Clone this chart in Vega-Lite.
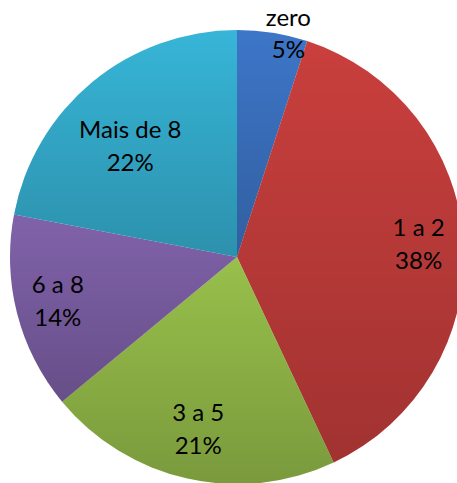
{
  "$schema": "https://vega.github.io/schema/vega-lite/v6.json",
  "width": 440,
  "height": 452,
  "padding": {"left": 17, "top": 31, "right": 0, "bottom": 0},
  "autosize": {"type": "none"},
  "background": "white",
  "config": {"view": {"stroke": null}},
  "data": {
    "values": [
      {"cat": "zero", "value": 5, "ord": 1, "lines": ["zero", "5%"]},
      {"cat": "1 a 2", "value": 38, "ord": 2, "lines": ["1 a 2", "38%"]},
      {"cat": "3 a 5", "value": 21, "ord": 3, "lines": ["3 a 5", "21%"]},
      {"cat": "6 a 8", "value": 14, "ord": 4, "lines": ["6 a 8", "14%"]},
      {"cat": "Mais de 8", "value": 22, "ord": 5, "lines": ["Mais de 8", "22%"]}
    ]
  },
  "encoding": {
    "theta": {"field": "value", "type": "quantitative", "stack": true},
    "order": {"field": "ord", "type": "quantitative"}
  },
  "layer": [
    {
      "mark": {"type": "arc", "outerRadius": 227},
      "encoding": {
        "color": {
          "field": "cat",
          "type": "nominal",
          "scale": {
            "domain": ["zero", "1 a 2", "3 a 5", "6 a 8", "Mais de 8"],
            "range": ["#3d76c8", "#c93f3d", "#98c04b", "#8062aa", "#37b5d7"]
          },
          "legend": null
        }
      }
    },
    {
      "mark": {
        "type": "arc",
        "outerRadius": 227,
        "fill": {
          "gradient": "linear",
          "x1": 0, "y1": 0, "x2": 0, "y2": 1,
          "stops": [
            {"offset": 0, "color": "rgba(0,0,0,0)"},
            {"offset": 1, "color": "rgba(0,0,0,0.2)"}
          ]
        }
      },
      "encoding": {}
    },
    {
      "mark": {"type": "text", "radius": 226, "dx": 16, "dy": -15, "font": "Lato", "fontSize": 24, "lineHeight": 32, "color": "black"},
      "encoding": {
        "text": {"field": "lines"},
        "opacity": {"condition": {"test": "datum.cat === 'zero'", "value": 1}, "value": 0}
      }
    },
    {
      "mark": {"type": "text", "radius": 155, "dx": -8, "dy": -7, "font": "Lato", "fontSize": 24, "lineHeight": 33, "color": "black"},
      "encoding": {
        "text": {"field": "lines"},
        "opacity": {"condition": {"test": "datum.cat === 'Mais de 8'", "value": 1}, "value": 0}
      }
    },
    {
      "mark": {"type": "text", "radius": 182, "dy": -17, "font": "Lato", "fontSize": 24, "lineHeight": 33, "color": "black"},
      "encoding": {
        "text": {"field": "lines"},
        "opacity": {"condition": {"test": "datum.cat === '1 a 2'", "value": 1}, "value": 0}
      }
    },
    {
      "mark": {"type": "text", "radius": 178, "dy": -17, "font": "Lato", "fontSize": 24, "lineHeight": 33, "color": "black"},
      "encoding": {
        "text": {"field": "lines"},
        "opacity": {"condition": {"test": "datum.cat === '3 a 5'", "value": 1}, "value": 0}
      }
    },
    {
      "mark": {"type": "text", "radius": 185, "dy": -17, "font": "Lato", "fontSize": 24, "lineHeight": 33, "color": "black"},
      "encoding": {
        "text": {"field": "lines"},
        "opacity": {"condition": {"test": "datum.cat === '6 a 8'", "value": 1}, "value": 0}
      }
    }
  ]
}
